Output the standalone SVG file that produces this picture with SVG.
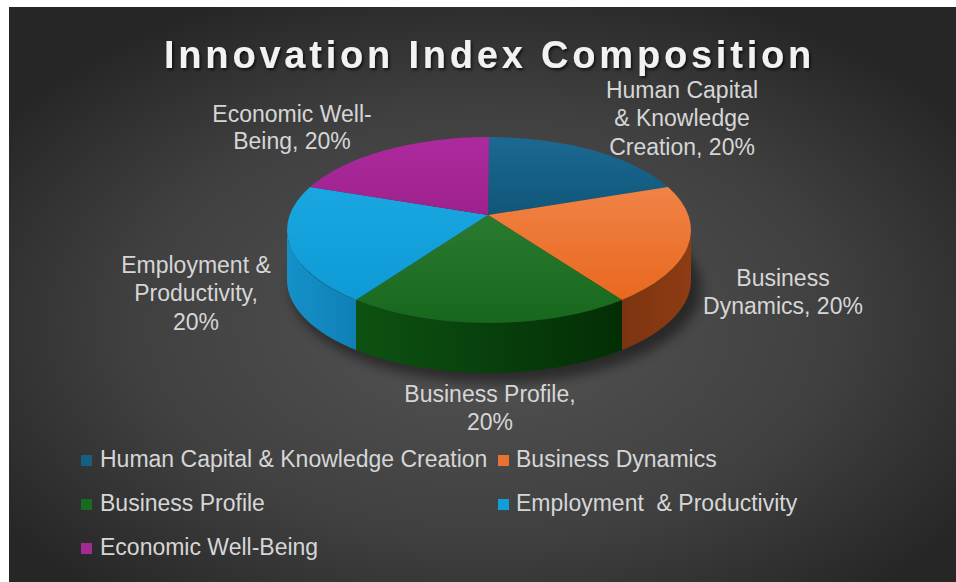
<svg xmlns="http://www.w3.org/2000/svg" width="956" height="582" viewBox="0 0 956 582">
<defs>
<radialGradient id="bg" cx="50%" cy="55%" r="62%">
<stop offset="0" stop-color="#545454"/>
<stop offset="0.6" stop-color="#404040"/>
<stop offset="1" stop-color="#262626"/>
</radialGradient>
<linearGradient id="gBlue" x1="0" y1="0" x2="0" y2="1"><stop offset="0" stop-color="#1b6992"/><stop offset="1" stop-color="#10567a"/></linearGradient>
<linearGradient id="gOrange" x1="0" y1="0" x2="0" y2="1"><stop offset="0" stop-color="#f08346"/><stop offset="1" stop-color="#e9681f"/></linearGradient>
<linearGradient id="gGreen" x1="0" y1="0" x2="0" y2="1"><stop offset="0" stop-color="#2a7a2f"/><stop offset="1" stop-color="#17671d"/></linearGradient>
<linearGradient id="gCyan" x1="0" y1="0" x2="0" y2="1"><stop offset="0" stop-color="#1aa6e1"/><stop offset="1" stop-color="#0e9ad4"/></linearGradient>
<linearGradient id="gMag" x1="0" y1="0" x2="0" y2="1"><stop offset="0" stop-color="#ad2a9e"/><stop offset="1" stop-color="#9e218e"/></linearGradient>
<linearGradient id="sCyan" x1="0" y1="0" x2="1" y2="0"><stop offset="0" stop-color="#1590c9"/><stop offset="1" stop-color="#0f80b6"/></linearGradient>
<linearGradient id="sGreen" x1="0" y1="0" x2="1" y2="0"><stop offset="0" stop-color="#0d5212"/><stop offset="1" stop-color="#032e05"/></linearGradient>
<linearGradient id="sOrange" x1="0" y1="0" x2="1" y2="0"><stop offset="0" stop-color="#7c3410"/><stop offset="1" stop-color="#8e3c13"/></linearGradient>
<filter id="blur" x="-20%" y="-20%" width="140%" height="140%"><feGaussianBlur stdDeviation="6"/></filter>
<filter id="tshadow" x="-5%" y="-30%" width="110%" height="160%"><feDropShadow dx="1.5" dy="2" stdDeviation="1.5" flood-color="#000" flood-opacity="0.7"/></filter>
</defs>
<style>
.lbl{font-family:"Liberation Sans",Arial,sans-serif;font-size:23px;fill:#d6d6d6;text-anchor:middle}
.leg{font-family:"Liberation Sans",Arial,sans-serif;font-size:23px;fill:#d6d6d6}
.title{font-family:"Liberation Sans",Arial,sans-serif;font-size:38px;font-weight:bold;fill:#f2f2f2;letter-spacing:3.8px}
</style>
<rect x="0" y="0" width="956" height="582" fill="#ffffff"/>
<rect x="9" y="7" width="947" height="575" fill="url(#bg)"/>
<text class="title" x="164" y="68" filter="url(#tshadow)">Innovation Index Composition</text>
<ellipse cx="496" cy="288" rx="205" ry="95" fill="#000" opacity="0.45" filter="url(#blur)"/>
<g id="slice-human-capital">
<path d="M488,215 L489,137 A202,93 0 0 1 668,187 Z" fill="url(#gBlue)"/>
</g>
<g id="slice-business-dynamics">
<path d="M622,300 A202,93 0 0 0 691,230 L691,280 A202,93 0 0 1 622,350 Z" fill="url(#sOrange)"/>
<path d="M488,215 L668,187 A202,93 0 0 1 622,300 Z" fill="url(#gOrange)"/>
</g>
<g id="slice-business-profile">
<path d="M356,300 A202,93 0 0 0 622,300 L622,350 A202,93 0 0 1 356,350 Z" fill="url(#sGreen)"/>
<path d="M488,215 L622,300 A202,93 0 0 1 356,300 Z" fill="url(#gGreen)"/>
</g>
<g id="slice-employment">
<path d="M287,230 A202,93 0 0 0 356,300 L356,350 A202,93 0 0 1 287,280 Z" fill="url(#sCyan)"/>
<path d="M488,215 L356,300 A202,93 0 0 1 310,187 Z" fill="url(#gCyan)"/>
</g>
<g id="slice-economic">
<path d="M488,215 L310,187 A202,93 0 0 1 489,137 Z" fill="url(#gMag)"/>
</g>
<g id="labels">
<text class="lbl" x="292" y="122">Economic Well-</text>
<text class="lbl" x="292" y="149">Being, 20%</text>
<text class="lbl" x="682" y="98">Human Capital</text>
<text class="lbl" x="682" y="126">&amp; Knowledge</text>
<text class="lbl" x="682" y="155">Creation, 20%</text>
<text class="lbl" x="783" y="286">Business</text>
<text class="lbl" x="783" y="314">Dynamics, 20%</text>
<text class="lbl" x="196" y="273">Employment &amp;</text>
<text class="lbl" x="196" y="301">Productivity,</text>
<text class="lbl" x="196" y="330">20%</text>
<text class="lbl" x="490" y="402">Business Profile,</text>
<text class="lbl" x="490" y="430">20%</text>
</g>
<g id="legend">
<rect x="81" y="455" width="11" height="11" fill="#156082"/>
<text class="leg" x="100" y="467">Human Capital &amp; Knowledge Creation</text>
<rect x="498" y="455" width="11" height="11" fill="#e97132"/>
<text class="leg" x="516" y="467">Business Dynamics</text>
<rect x="81" y="499" width="11" height="11" fill="#196b24"/>
<text class="leg" x="100" y="511">Business Profile</text>
<rect x="498" y="499" width="11" height="11" fill="#0f9ed5"/>
<text class="leg" x="516" y="511" xml:space="preserve">Employment  &amp; Productivity</text>
<rect x="81" y="543" width="11" height="11" fill="#a02b93"/>
<text class="leg" x="100" y="555">Economic Well-Being</text>
</g>
</svg>
